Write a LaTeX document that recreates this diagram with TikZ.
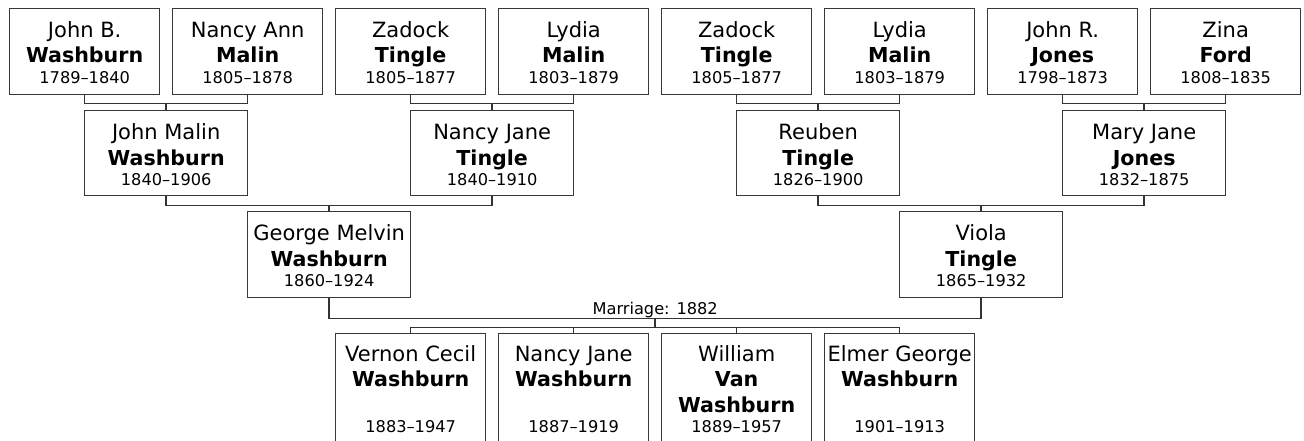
\documentclass[tikz,border=0pt]{standalone}
\usepackage{fontspec}
\setmainfont{DejaVu Sans}
\usetikzlibrary{calc}
\newcommand\person[8]{%
  \node[pbox, minimum width=#4pt, minimum height=#5pt] (#1) at (#2,#3) {};
  \node[nm] (#1-a) at ([yshift=-29.5pt]#1.north) {#6};
  \node[sn] (#1-b) at ([yshift=-55pt]#1.north) {#7};
  \node[dt] (#1-c) at ([yshift=-75.5pt]#1.north) {#8};
}
\newcommand\child[5]{%
  \node[pbox, minimum width=150pt, minimum height=130pt] (#1) at (#2,333) {};
  \node[nm] (#1-a) at ([yshift=-28.7pt]#1.north) {#3};
  \node[sn] (#1-b) at ([yshift=-53.7pt]#1.north) {#4};
  \node[dt] (#1-c) at ([yshift=-99.7pt]#1.north) {#5};
}
\begin{document}
\begin{tikzpicture}[x=1pt,y=-1pt,
  pbox/.style={draw=black!78, line width=1.35pt, rectangle, inner sep=0pt, anchor=north west},
  conn/.style={draw=black!80, line width=1.5pt},
  nm/.style={font=\fontsize{21}{25}\selectfont, inner sep=0pt, anchor=base},
  sn/.style={font=\fontsize{20.6}{25}\selectfont\bfseries, inner sep=0pt, anchor=base},
  dt/.style={font=\fontsize{16.2}{20}\selectfont, inner sep=0pt, anchor=base},
]
\useasboundingbox (0,0) rectangle (1304,441);
\clip (0,0) rectangle (1304,441);
% top row
\person{p1}{9}{8}{150}{86}{John B.}{Washburn}{1789–1840}
\person{p2}{172}{8}{150}{86}{Nancy Ann}{Malin}{1805–1878}
\person{p3}{335}{8}{150}{86}{Zadock}{Tingle}{1805–1877}
\person{p4}{498}{8}{150}{86}{Lydia}{Malin}{1803–1879}
\person{p5}{661}{8}{150}{86}{Zadock}{Tingle}{1805–1877}
\person{p6}{824}{8}{150}{86}{Lydia}{Malin}{1803–1879}
\person{p7}{987}{8}{150}{86}{John R.}{Jones}{1798–1873}
\person{p8}{1150}{8}{150}{86}{Zina}{Ford}{1808–1835}
% second row
\person{g1}{84}{110}{163}{85}{John Malin}{Washburn}{1840–1906}
\person{g2}{410}{110}{163}{85}{Nancy Jane}{Tingle}{1840–1910}
\person{g3}{736}{110}{163}{85}{Reuben}{Tingle}{1826–1900}
\person{g4}{1062}{110}{163}{85}{Mary Jane}{Jones}{1832–1875}
% third row
\person{george}{247}{211}{163}{86}{George Melvin}{Washburn}{1860–1924}
\person{viola}{899}{211}{163}{86}{Viola}{Tingle}{1865–1932}
% children
\child{c1}{335}{Vernon Cecil}{Washburn}{1883–1947}
\child{c2}{498}{Nancy Jane}{Washburn}{1887–1919}
\child{c3}{661}{William}{Van}{1889–1957}
\node[sn] (c3-d) at ([yshift=-79.5pt]c3.north) {Washburn};
\child{c4}{824}{Elmer George}{Washburn}{1901–1913}
% connectors top -> second
\draw[conn] (p1.south) -- ++(0,8) coordinate (j1) -| (p2.south);
\draw[conn] (g1.north) -- (g1.north |- j1);
\draw[conn] (p3.south) -- ++(0,8) coordinate (j2) -| (p4.south);
\draw[conn] (g2.north) -- (g2.north |- j2);
\draw[conn] (p5.south) -- ++(0,8) coordinate (j3) -| (p6.south);
\draw[conn] (g3.north) -- (g3.north |- j3);
\draw[conn] (p7.south) -- ++(0,8) coordinate (j4) -| (p8.south);
\draw[conn] (g4.north) -- (g4.north |- j4);
% second -> third
\draw[conn] (g1.south) -- ++(0,9) coordinate (k1) -| (g2.south);
\draw[conn] (george.north) -- (george.north |- k1);
\draw[conn] (g3.south) -- ++(0,9) coordinate (k2) -| (g4.south);
\draw[conn] (viola.north) -- (viola.north |- k2);
% marriage
\draw[conn] (george.south) -- ++(0,20) coordinate (m1) -| (viola.south);
\coordinate (m2) at (m1 -| viola.south);
\coordinate (mm) at ($(m1)!0.5!(m2)$);
\node[dt] (mlabel) at ($(mm)+(0,-4)$) {Marriage: 1882};
\draw[conn] (mm) -- ++(0,9) coordinate (cl);
\draw[conn] (c1.north) |- (cl) -| (c4.north);
\draw[conn] (c2.north) -- (c2.north |- cl);
\draw[conn] (c3.north) -- (c3.north |- cl);
\end{tikzpicture}
\end{document}
